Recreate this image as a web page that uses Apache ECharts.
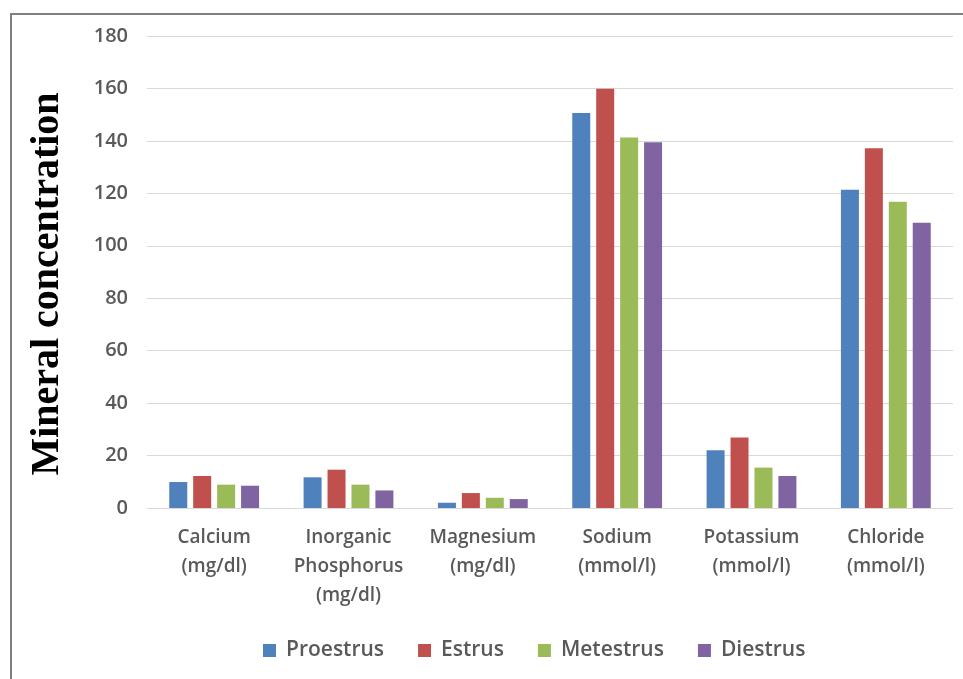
<!DOCTYPE html>
<html>
<head>
<meta charset="utf-8">
<script src="https://cdn.jsdelivr.net/npm/echarts@6/dist/echarts.min.js"></script>
<style>
html,body{margin:0;padding:0;background:#fff;}
#chart{width:963px;height:679px;}
</style>
</head>
<body>
<div id="chart"></div>
<script>
const categories = ['Calcium\n(mg/dl)', 'Inorganic\nPhosphorus\n(mg/dl)', 'Magnesium\n(mg/dl)', 'Sodium\n(mmol/l)', 'Potassium\n(mmol/l)', 'Chloride\n(mmol/l)'];
const seriesNames = ['Proestrus', 'Estrus', 'Metestrus', 'Diestrus'];
const proestrus = [9.9, 11.7, 2.0, 150.6, 22.0, 121.4];
const estrus = [12.2, 14.6, 5.7, 159.9, 26.9, 137.2];
const metestrus = [8.9, 8.9, 3.9, 141.3, 15.4, 116.8];
const diestrus = [8.5, 6.7, 3.4, 139.5, 12.2, 108.8];
const yTicks = [0, 20, 40, 60, 80, 100, 120, 140, 160, 180];
const colors = ['#4F81BD', '#C0504D', '#9BBB59', '#8064A2'];
const values = [proestrus, estrus, metestrus, diestrus];

const chart = echarts.init(document.getElementById('chart'), null, {renderer: 'canvas'});
const font = '"Open Sans", sans-serif';
chart.setOption({
  animation: false,
  backgroundColor: '#ffffff',
  color: colors,
  graphic: [
    {type: 'rect', shape: {x: 11, y: 14, width: 970, height: 700}, style: {fill: 'none', stroke: '#808080', lineWidth: 2}, z: 0},
    {type: 'text', x: 48, y: 284, rotation: Math.PI / 2,
     style: {text: 'Mineral concentration', font: 'bold 40px "Liberation Serif", "DejaVu Serif", serif', fill: '#000', align: 'center', verticalAlign: 'middle'}}
  ],
  grid: {left: 147, right: 10, top: 36, bottom: 171, containLabel: false},
  legend: {
    data: seriesNames,
    left: 258, top: 635,
    icon: 'rect', itemWidth: 13, itemHeight: 13, itemGap: 34,
    textStyle: {fontFamily: font, fontSize: 21, fontWeight: 600, color: '#595959', padding: [0, 0, 0, 5]}
  },
  xAxis: {
    type: 'category',
    data: categories,
    axisLine: {show: false},
    axisTick: {show: false},
    axisLabel: {interval: 0, margin: 15, fontFamily: font, fontSize: 19, fontWeight: 600, color: '#595959', lineHeight: 29}
  },
  yAxis: {
    type: 'value', min: 0, max: 180, interval: 20,
    axisLine: {show: false}, axisTick: {show: false},
    splitLine: {lineStyle: {color: '#d9d9d9', width: 1}},
    axisLabel: {margin: 19, fontFamily: font, fontSize: 20, fontWeight: 600, color: '#595959',
      formatter: v => yTicks.includes(v) ? String(v) : ''}
  },
  series: seriesNames.map((name, i) => ({
    name, type: 'bar', data: values[i], barWidth: 18, barGap: '33%'
  }))
});
</script>
</body>
</html>
